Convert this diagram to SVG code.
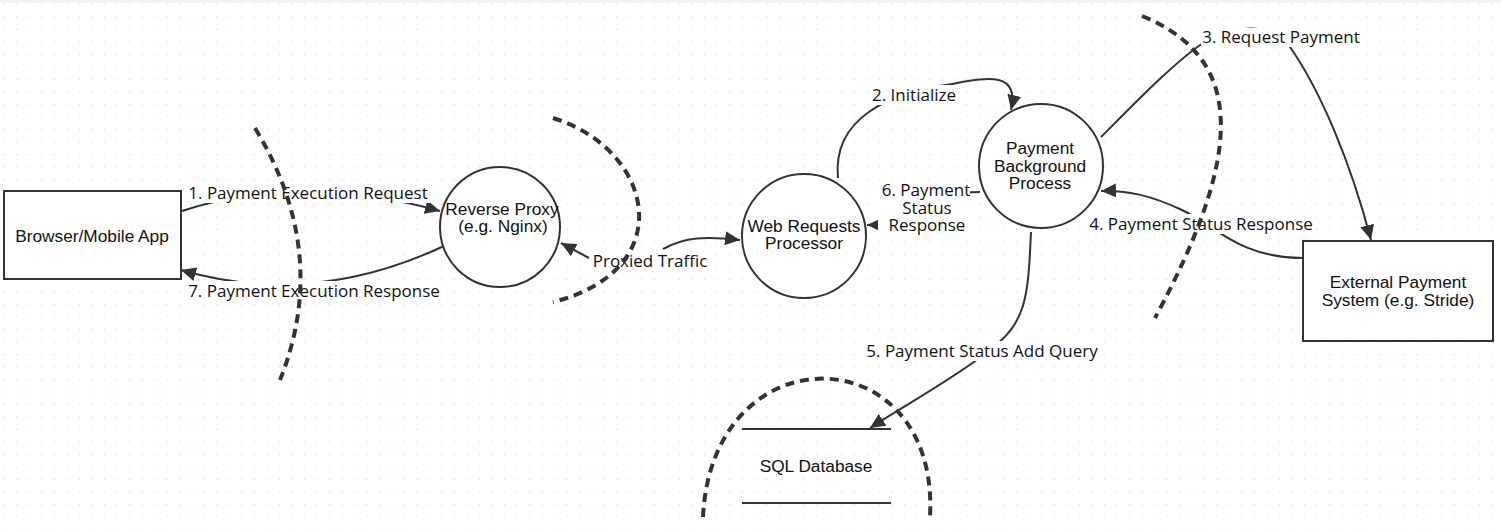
<svg xmlns="http://www.w3.org/2000/svg" width="1501" height="529" viewBox="0 0 1501 529">
<defs>
<pattern id="grid" x="0" y="0" width="12.5" height="12.5" patternUnits="userSpaceOnUse">
<rect x="4" y="4" width="1" height="1" fill="#c8c8c8"/>
</pattern>
<marker id="arrow" markerUnits="userSpaceOnUse" markerWidth="16" markerHeight="14" refX="15" refY="7" orient="auto">
<path d="M0,0 L15,7 L0,14 z" fill="#333"/>
</marker>
</defs>
<style>
.node{fill:#fff;stroke:#333;stroke-width:2}
.ntext{font-family:"Liberation Sans",Arial,sans-serif;font-size:17.3px;fill:#111;text-anchor:middle}
.conn{fill:none;stroke:#333;stroke-width:2}
.lbl{font-family:"Open Sans","Noto Sans",sans-serif;font-size:17px;fill:#111;text-anchor:middle}
.lblbg{fill:#fff}
.bound{fill:none;stroke:#333;stroke-width:4;stroke-dasharray:9 6}
.db{fill:none;stroke:#333;stroke-width:2}
</style>
<rect width="1501" height="529" fill="#fff"/>
<rect width="1501" height="529" fill="url(#grid)"/>
<rect width="1501" height="3" fill="#f2f2f2"/>

<g id="connectors">
<path class="conn" d="M182,211 Q300,172 440,211" marker-end="url(#arrow)"/>
<path class="conn" d="M444,246 Q312,308 181,270" marker-end="url(#arrow)"/>
<path class="conn" d="M589,258 L561,243" marker-end="url(#arrow)"/>
<path class="conn" d="M663,249 C685,237 705,236 740,240" marker-end="url(#arrow)"/>
<path class="conn" d="M838,178 C832,118 890,92 952,84 C985,78 1020,70 1011,110" marker-end="url(#arrow)"/>
<path class="conn" d="M980,192 C930,192 910,225 867,225" marker-end="url(#arrow)"/>
<path class="conn" d="M1101,137 C1140,98 1175,62 1203,43 C1235,24 1270,22 1290,47 C1320,90 1350,160 1371,240" marker-end="url(#arrow)"/>
<path class="conn" d="M1303,258 C1240,258 1215,226 1182,210 C1152,196 1128,190 1101,191" marker-end="url(#arrow)"/>
<path class="conn" d="M1031,232 C1028,300 1026,322 990,350 C955,378 905,405 870,428" marker-end="url(#arrow)"/>

<rect class="lblbg" x="187" y="183" width="243" height="20"/>
<text class="lbl" x="308" y="199">1. Payment Execution Request</text>
<rect class="lblbg" x="187" y="281" width="255" height="20"/>
<text class="lbl" x="314" y="297">7. Payment Execution Response</text>
<rect class="lblbg" x="591" y="251" width="119" height="20"/>
<text class="lbl" x="650" y="267">Proxied Traffic</text>
<rect class="lblbg" x="870" y="85" width="89" height="20"/>
<text class="lbl" x="914" y="101">2. Initialize</text>
<rect class="lblbg" x="878" y="180" width="92" height="54"/>
<text class="lbl" x="926" y="196">6. Payment</text>
<text class="lbl" x="927" y="214">Status</text>
<text class="lbl" x="927" y="231">Response</text>
<rect class="lblbg" x="1201" y="28" width="160" height="19"/>
<text class="lbl" x="1281" y="43">3. Request Payment</text>
<rect class="lblbg" x="1088" y="214" width="227" height="20"/>
<text class="lbl" x="1201" y="230">4. Payment Status Response</text>
<rect class="lblbg" x="865" y="341" width="235" height="20"/>
<text class="lbl" x="982" y="357">5. Payment Status Add Query</text>
</g>

<g id="browser">
<rect class="node" x="4" y="191" width="177" height="88"/>
<text class="ntext" x="92" y="242">Browser/Mobile App</text>
</g>
<g id="reverse-proxy">
<circle class="node" cx="500" cy="227" r="60"/>
<text class="ntext" x="502" y="215">Reverse Proxy</text>
<text class="ntext" x="503" y="232">(e.g. Nginx)</text>
</g>
<g id="web-requests">
<circle class="node" cx="804" cy="236" r="62"/>
<text class="ntext" x="804" y="232">Web Requests</text>
<text class="ntext" x="804" y="249">Processor</text>
</g>
<g id="payment-bg">
<circle class="node" cx="1041" cy="166" r="62"/>
<text class="ntext" x="1040" y="154">Payment</text>
<text class="ntext" x="1040" y="172">Background</text>
<text class="ntext" x="1040" y="189">Process</text>
</g>
<g id="external">
<rect class="node" x="1303" y="241" width="190" height="100"/>
<text class="ntext" x="1398" y="288">External Payment</text>
<text class="ntext" x="1398" y="306">System (e.g. Stride)</text>
</g>
<g id="sql-db">
<line class="db" x1="742" y1="429" x2="891" y2="429"/>
<line class="db" x1="742" y1="503" x2="891" y2="503"/>
<text class="ntext" x="816" y="472">SQL Database</text>
</g>

<g id="boundaries">
<path class="bound" d="M255,128 Q331,253 280,380"/>
<path class="bound" d="M553,118 C655,150 680,270 553,302"/>
<path class="bound" d="M1142,16 C1250,60 1240,160 1155,318"/>
<path class="bound" d="M703,517 C712,330 940,335 930,517"/>
</g>
</svg>
